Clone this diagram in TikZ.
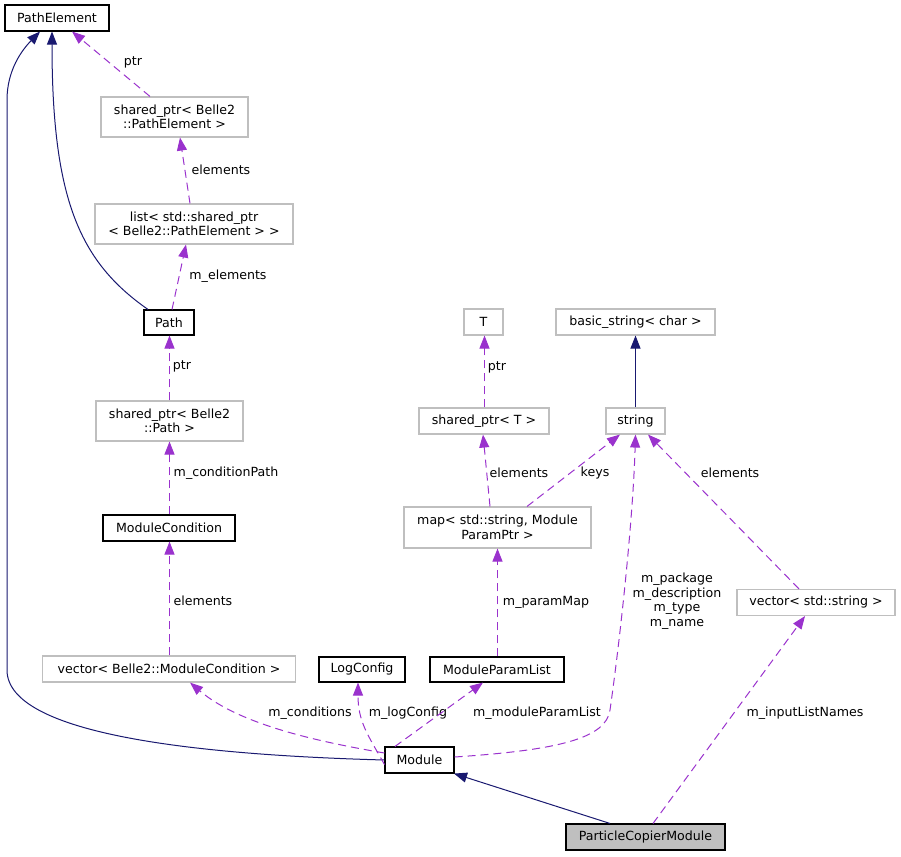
\documentclass[tikz,border=0pt]{standalone}
\usepackage{fontspec}
\setmainfont{DejaVu Sans}
\usetikzlibrary{arrows.meta}
\definecolor{navyc}{RGB}{25,25,112}
\definecolor{purpc}{RGB}{154,50,205}
\definecolor{gboxc}{RGB}{191,191,191}
\newcommand{\dfs}{\fontsize{12.6}{14.5}\selectfont}
\begin{document}
\begin{tikzpicture}[x=1pt,y=-1pt,
  box/.style={draw=black, line width=1.1pt, inner sep=0pt, align=center, font=\dfs},
  gbox/.style={box, draw=gboxc},
  inh/.style={draw=navyc, line width=1pt, -{Triangle[length=13pt,width=10pt]}},
  usearr/.style={draw=purpc, line width=1pt, dash pattern=on 8pt off 5pt, -{Triangle[length=13pt,width=10pt]}},
  lbl/.style={font=\dfs, inner sep=0pt, align=center}]
\useasboundingbox (0,0) rectangle (901,856);
% nodes
\node[box, minimum width=104pt, minimum height=26pt] (PE) at (57,18) {PathElement};
\node[gbox, minimum width=147pt, minimum height=40pt] (SPPE) at (174.5,117) {shared\_ptr< Belle2\\::PathElement >};
\node[gbox, minimum width=198pt, minimum height=40pt] (LST) at (194,224) {list< std::shared\_ptr\\< Belle2::PathElement > >};
\node[box, minimum width=50pt, minimum height=25pt] (PTH) at (169,322.5) {Path};
\node[gbox, minimum width=147pt, minimum height=40pt] (SPP) at (169.5,421) {shared\_ptr< Belle2\\::Path >};
\node[box, minimum width=132pt, minimum height=26pt] (MC) at (169,528) {ModuleCondition};
\node[gbox, minimum width=253pt, minimum height=26pt] (VMC) at (169,669) {vector< Belle2::ModuleCondition >};
\node[box, minimum width=86pt, minimum height=25pt] (LC) at (362,669.5) {LogConfig};
\node[box, minimum width=134pt, minimum height=25pt] (MPL) at (497,669.5) {ModuleParamList};
\node[box, minimum width=69pt, minimum height=26pt] (MOD) at (419.5,760) {Module};
\node[box, fill=gboxc, minimum width=159pt, minimum height=26pt] (PCM) at (645.5,837) {ParticleCopierModule};
\node[gbox, minimum width=39pt, minimum height=26pt] (T) at (483.5,322) {T};
\node[gbox, minimum width=159pt, minimum height=26pt] (BS) at (635.5,322) {basic\_string< char >};
\node[gbox, minimum width=59pt, minimum height=26pt] (STR) at (635.5,421) {string};
\node[gbox, minimum width=130pt, minimum height=26pt] (SPT) at (484,421) {shared\_ptr< T >};
\node[gbox, minimum width=187pt, minimum height=41pt] (MAP) at (497.5,527.5) {map< std::string, Module\\ParamPtr >};
\node[gbox, minimum width=158pt, minimum height=26pt] (VS) at (816,602.5) {vector< std::string >};
% inheritance edges
\draw[inh] (MOD.west) .. controls (200,755) and (7,735) .. (7,670) -- (7,100) .. controls (7,70) and (22,50) .. ([xshift=-17pt]PE.south);
\draw[inh] ([xshift=-21pt]PTH.north) .. controls (80,262) and (52,200) .. ([xshift=-5pt]PE.south);
\draw[inh] (STR.north) -- (BS.south);
\draw[inh] ([xshift=-35.5pt]PCM.north) -- ([xshift=34.5pt]MOD.south);
% usage edges
\draw[usearr] ([xshift=-24.5pt]SPPE.north) -- ([xshift=15pt]PE.south);
\node[lbl] (l1) at (133,62) {ptr};
\draw[usearr] ([xshift=-4pt]LST.north) -- ([xshift=5.5pt]SPPE.south);
\node[lbl] (l2) at (221,170) {elements};
\draw[usearr] ([xshift=3pt]PTH.north) -- ([xshift=-8pt]LST.south);
\node[lbl] (l3) at (228,276) {m\_elements};
\draw[usearr] (SPP.north) -- ([xshift=0.5pt]PTH.south);
\node[lbl] (l4) at (182,366) {ptr};
\draw[usearr] ([xshift=0.5pt]MC.north) -- (SPP.south);
\node[lbl] (l5) at (226,473) {m\_conditionPath};
\draw[usearr] ([xshift=0.5pt]VMC.north) -- ([xshift=0.5pt]MC.south);
\node[lbl] (l6) at (203,601) {elements};
\draw[usearr] ([yshift=7pt]MOD.west) .. controls (320,742) and (240,725) .. ([xshift=21pt]VMC.south);
\node[lbl] (l7) at (310,713) {m\_conditions};
\draw[usearr] ([xshift=-35pt,yshift=9pt]MOD.south) .. controls (368,735) and (358,722) .. ([xshift=-4pt]LC.south);
\node[lbl] (l8) at (408,713) {m\_logConfig};
\draw[usearr] ([xshift=10.5pt]MOD.north west) -- ([xshift=-14pt]MPL.south);
\node[lbl] (l9) at (537,713) {m\_moduleParamList};
\draw[usearr] ([xshift=0.5pt]MPL.north) -- (MAP.south);
\node[lbl] (l10) at (546,602) {m\_paramMap};
\draw[usearr] ([xshift=-7.5pt]MAP.north) -- ([xshift=-1pt]SPT.south);
\node[lbl] (l11) at (519,473) {elements};
\draw[usearr] ([xshift=29.5pt]MAP.north) -- ([xshift=-15.5pt]STR.south);
\node[lbl] (l12) at (595,473) {keys};
\draw[usearr] ([xshift=0.5pt]SPT.north) -- ([xshift=1pt]T.south);
\node[lbl] (l13) at (497,367) {ptr};
\draw[usearr] ([yshift=3pt]MOD.east) .. controls (560,750) and (606,738) .. (610,710) .. controls (620,640) and (633,520) .. (STR.south);
\node[lbl] (l14) at (677,601) {m\_package\\m\_description\\m\_type\\m\_name};
\draw[usearr] ([xshift=-17pt]VS.north) -- ([xshift=12.5pt]STR.south);
\node[lbl] (l15) at (730,473) {elements};
\draw[usearr] ([xshift=7.5pt]PCM.north) -- ([xshift=-11pt]VS.south);
\node[lbl] (l16) at (805,713) {m\_inputListNames};
\end{tikzpicture}
\end{document}
